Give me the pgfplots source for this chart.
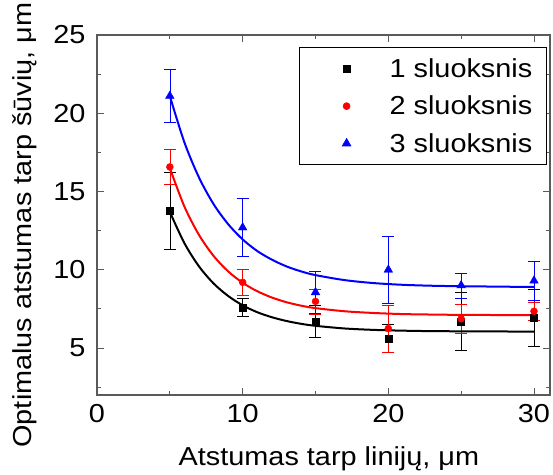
\documentclass[border=0pt]{standalone}
\usepackage{fontspec}
\setmainfont[FakeStretch=1.11]{Liberation Sans}
\usepackage{pgfplots}
\pgfplotsset{compat=1.18}
\usepackage{pgfplotstable}
\newcommand{\fs}{\fontsize{26}{30}\selectfont}
\definecolor{axgray}{RGB}{90,90,90}
\definecolor{myblue}{RGB}{0,0,255}
\definecolor{myred}{RGB}{255,0,0}
\pgfplotstableread{
x y e
5 13.75 2.45
10 7.6 0.6
15 6.7 1.0
20 5.62 0.9
25 6.7 1.83
30 6.94 1.8
}\blackdata
\pgfplotstableread{
x y e
5 16.57 1.1
10 9.2 0.8
15 7.98 0.8
20 6.25 1.5
25 6.87 0.9
30 7.35 0.6
}\reddata
\pgfplotstableread{
x y e
5 21.1 1.7
10 12.7 1.85
15 8.56 1.37
20 10.0 2.15
25 9.0 0.8
30 9.3 1.25
}\bluedata
\pgfplotstableread{
x y
5 13.70
6 11.70
7 10.22
8 9.13
9 8.33
10 7.73
11 7.29
12 6.97
13 6.73
14 6.55
15 6.42
17 6.25
19 6.16
21 6.11
23 6.08
25 6.07
30 6.05
}\blackfit
\pgfplotstableread{
x y
5 16.50
6 14.04
7 12.23
8 10.89
9 9.90
10 9.17
11 8.63
12 8.23
13 7.93
14 7.71
15 7.55
17 7.35
19 7.24
21 7.17
23 7.14
25 7.12
30 7.10
}\redfit
\pgfplotstableread{
x y
5 21.10
6 18.14
7 15.90
8 14.20
9 12.92
10 11.94
11 11.20
12 10.65
13 10.22
14 9.90
15 9.66
17 9.34
19 9.15
21 9.04
23 8.98
25 8.95
30 8.90
}\bluefit
\begin{document}
\begin{tikzpicture}
\begin{axis}[
  name=ax,
  scale only axis,
  width=453pt, height=360pt,
  xmin=0, xmax=31.1, ymin=2, ymax=25,
  xtick={0,10,20,30}, minor xtick={5,15,25},
  ytick={5,10,15,20,25}, minor ytick={2.5,7.5,12.5,17.5,22.5},
  tick align=inside,
  major tick length=7pt, minor tick length=4pt,
  axis line style={axgray, line width=1.1pt},
  every tick/.style={axgray, line width=0.9pt},
  /pgf/number format/assume math mode=true,
  tick label style={font=\fs},
  yticklabel style={xshift=-8pt},
  xticklabel style={yshift=-6pt},
  label style={font=\fs},
  xlabel={Atstumas tarp linijų, μm},
  ylabel={Optimalus atstumas tarp šūvių, μm},
  xlabel style={at={(axis description cs:0.512,0)}, anchor=center, yshift=-64pt},
  ylabel style={at={(axis description cs:0,0.472)}, anchor=center, yshift=72pt},
  legend style={font=\fs, at={(0.9934,0.9667)}, anchor=north east,
    draw=black, line width=1.3pt, inner xsep=0pt, inner ysep=9pt,
    row sep=13pt, cells={anchor=west}},
  legend cell align=left,
  legend image code/.code={\path[draw=none,fill=none] (0pt,-5pt) rectangle (88pt,5pt); \draw[#1, line width=0.6pt] plot coordinates {(47pt,0pt)};},
  clip=false,
]
\addplot[only marks, mark=square*, mark size=3.5pt, black,
  error bars/.cd, y dir=both, y explicit,
  error bar style={black, line width=0.6pt},
  error mark options={rotate=90, mark size=6pt, line width=0.6pt, black}]
  table[x=x, y=y, y error=e]{\blackdata};
\addlegendentry{1 sluoksnis\rule{12pt}{0pt}}
\addplot[only marks, mark=*, mark size=3.5pt, myred,
  error bars/.cd, y dir=both, y explicit,
  error bar style={myred, line width=0.6pt},
  error mark options={rotate=90, mark size=6pt, line width=0.6pt, myred}]
  table[x=x, y=y, y error=e]{\reddata};
\addlegendentry{2 sluoksnis\rule{12pt}{0pt}}
\addplot[only marks, mark=triangle*, mark size=5pt, myblue,
  error bars/.cd, y dir=both, y explicit,
  error bar style={myblue, line width=0.6pt},
  error mark options={rotate=90, mark size=6pt, line width=0.6pt, myblue}]
  table[x=x, y=y, y error=e]{\bluedata};
\addlegendentry{3 sluoksnis\rule{12pt}{0pt}}
\addplot[black, line width=2pt, smooth, no marks, forget plot] table[x=x,y=y]{\blackfit};
\addplot[myred, line width=2pt, smooth, no marks, forget plot] table[x=x,y=y]{\redfit};
\addplot[myblue, line width=2pt, smooth, no marks, forget plot] table[x=x,y=y]{\bluefit};
\end{axis}
\path (ax.south west) ++(-97pt,-79pt) coordinate (bl);
\path (ax.north east) ++(3pt,35pt) coordinate (tr);
\pgfresetboundingbox
\path (bl) rectangle (tr);
\end{tikzpicture}
\end{document}
